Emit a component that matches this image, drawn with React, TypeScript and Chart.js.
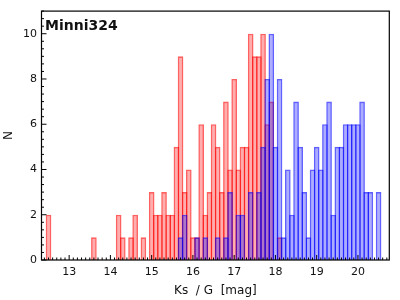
import { useEffect, useRef } from "react";
import { Chart, registerables } from "chart.js";

Chart.register(...registerables);

const TITLE = "Minni324";
const X_LABEL = "Ks  / G  [mag]";
const Y_LABEL = "N";
const X_TICKS = [13, 14, 15, 16, 17, 18, 19, 20];
const Y_TICKS = [0, 2, 4, 6, 8, 10];
const X_MIN = 12.33;
const X_MAX = 20.76;
const Y_MIN = 0;
const Y_MAX = 11;

const RED_BINS = [
  12.5, 13.6, 14.2, 14.3, 14.5, 14.6, 14.8,
  15.0, 15.1, 15.2, 15.3, 15.4, 15.5, 15.6, 15.7, 15.8, 15.9,
  16.0, 16.1, 16.2, 16.3, 16.4, 16.5, 16.6, 16.7, 16.8, 16.9,
  17.0, 17.1, 17.2, 17.3, 17.4, 17.5, 17.6, 17.7, 17.8, 17.9,
  18.1,
];
const RED_COUNTS = [
  2, 1, 2, 1, 1, 2, 1,
  3, 2, 2, 3, 2, 2, 5, 9, 3, 4,
  1, 1, 6, 2, 3, 6, 5, 3, 7, 4,
  8, 4, 5, 5, 10, 9, 9, 10, 6, 7,
  1,
];

const BLUE_BINS = [
  15.7, 15.8, 16.1, 16.3, 16.6, 16.8, 16.9,
  17.1, 17.2, 17.4, 17.6, 17.7, 17.8, 17.9,
  18.0, 18.1, 18.2, 18.3, 18.4, 18.5, 18.6, 18.7, 18.8, 18.9,
  19.0, 19.1, 19.2, 19.3, 19.4, 19.5, 19.6, 19.7, 19.8, 19.9,
  20.0, 20.1, 20.2, 20.3, 20.5,
];
const BLUE_COUNTS = [
  1, 2, 1, 1, 1, 1, 3,
  2, 2, 3, 3, 5, 8, 10,
  5, 8, 1, 4, 2, 7, 5, 3, 1, 4,
  5, 4, 6, 7, 2, 5, 5, 6, 6, 6,
  6, 7, 3, 3, 3,
];

const FONT = "DejaVu Sans";

const framePlugin = {
  id: "frameTicks",
  afterDraw(chart: any) {
    const { ctx, chartArea: a, scales } = chart;
    const xs = scales.x;
    const ys = scales.y;
    ctx.save();
    ctx.strokeStyle = "#000";
    ctx.lineWidth = 1.2;
    ctx.strokeRect(a.left, a.top, a.right - a.left, a.bottom - a.top);
    ctx.lineWidth = 1;
    ctx.beginPath();
    for (let k = Math.ceil(X_MIN * 10); k <= Math.floor(X_MAX * 10); k++) {
      const px = xs.getPixelForValue(k / 10);
      const len = k % 10 === 0 ? 5 : 2.5;
      ctx.moveTo(px, a.bottom);
      ctx.lineTo(px, a.bottom - len);
    }
    for (let k = 0; k <= Y_MAX * 3; k++) {
      const py = ys.getPixelForValue(k / 3);
      const len = k % 6 === 0 ? 5 : 2.5;
      ctx.moveTo(a.left, py);
      ctx.lineTo(a.left + len, py);
    }
    ctx.stroke();
    ctx.font = `bold 14px "${FONT}"`;
    ctx.fillStyle = "#111";
    ctx.textBaseline = "alphabetic";
    ctx.textAlign = "left";
    ctx.fillText(TITLE, a.left + 3.5, a.top + 19);
    ctx.restore();
  },
};

export default function App() {
  const ref = useRef<HTMLCanvasElement | null>(null);

  useEffect(() => {
    if (!ref.current) return;
    const barCommon = {
      barPercentage: 1.37,
      categoryPercentage: 1,
      borderWidth: 1.55,
      grouped: false,
      borderSkipped: "start",
    };
    const chart = new Chart(ref.current, {
      type: "bar",
      data: {
        datasets: [
          {
            label: "Ks",
            data: RED_BINS.map((x, i) => ({ x, y: RED_COUNTS[i] })),
            backgroundColor: "rgba(255,0,0,0.32)",
            borderColor: "rgba(255,0,0,0.62)",
            order: 2,
            ...barCommon,
          } as any,
          {
            label: "G",
            data: BLUE_BINS.map((x, i) => ({ x, y: BLUE_COUNTS[i] })),
            backgroundColor: "rgba(0,0,255,0.32)",
            borderColor: "rgba(0,0,255,0.62)",
            order: 1,
            ...barCommon,
          } as any,
        ],
      },
      options: {
        animation: false,
        responsive: true,
        maintainAspectRatio: false,
        layout: { padding: { top: 8.3, right: 10.7, left: 0, bottom: 0 } },
        plugins: {
          legend: { display: false },
          tooltip: { enabled: false },
        },
        scales: {
          x: {
            type: "linear",
            min: X_MIN,
            max: X_MAX,
            offset: false,
            grid: { display: false, drawTicks: false },
            border: { display: false },
            ticks: {
              font: { family: FONT, size: 11 },
              color: "#111",
              padding: 6,
              autoSkip: false,
              maxRotation: 0,
              callback: (v: any) => String(v),
            },
            afterBuildTicks: (s: any) => {
              s.ticks = X_TICKS.map((v) => ({ value: v }));
            },
            afterFit: (s: any) => {
              s.height = 40;
            },
            title: {
              display: true,
              text: X_LABEL,
              font: { family: FONT, size: 12 },
              color: "#111",
              padding: { top: 0, bottom: 1.5 },
            },
          },
          y: {
            type: "linear",
            min: Y_MIN,
            max: Y_MAX,
            grid: { display: false, drawTicks: false },
            border: { display: false },
            ticks: {
              font: { family: FONT, size: 11 },
              color: "#111",
              padding: 4.5,
              callback: (v: any) => String(v),
            },
            afterBuildTicks: (s: any) => {
              s.ticks = Y_TICKS.map((v) => ({ value: v }));
            },
            afterFit: (s: any) => {
              s.width = 41.5;
            },
            title: {
              display: true,
              text: Y_LABEL,
              font: { family: FONT, size: 12 },
              color: "#111",
              padding: { top: 2, bottom: 0 },
            },
          },
        },
      } as any,
      plugins: [framePlugin],
    });
    return () => chart.destroy();
  }, []);

  return (
    <div style={{ position: "fixed", left: 0, top: 0, width: 400, height: 300, background: "#fff" }}>
      <canvas ref={ref} />
    </div>
  );
}
